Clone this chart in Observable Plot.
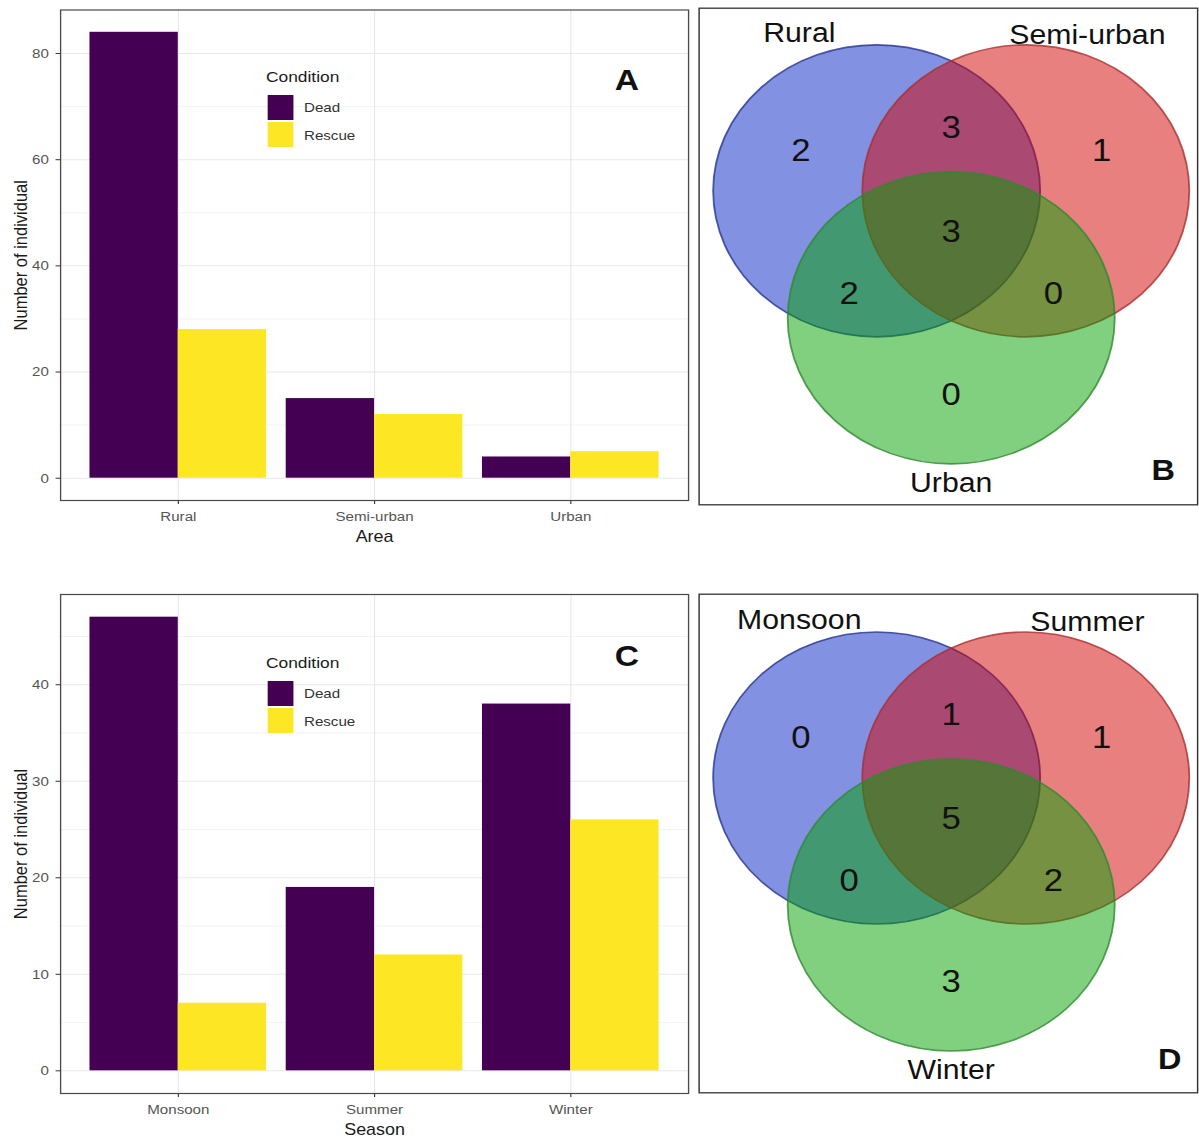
<!DOCTYPE html>
<html>
<head>
<meta charset="utf-8">
<script src="https://cdn.jsdelivr.net/npm/d3@7"></script>
<script src="https://cdn.jsdelivr.net/npm/@observablehq/plot@0.6"></script>
<style>
  html, body { margin: 0; padding: 0; background: #fff; overflow: hidden; }
  #page { position: absolute; left: 0; top: 0; width: 1071px; height: 1141px;
          transform: scaleX(1.12); transform-origin: 0 0;
          font-family: "Liberation Sans", Arial, Helvetica, sans-serif; }
  .panel { position: absolute; }
  .lg { position: absolute; white-space: nowrap; line-height: 20px; }
  .sw { position: absolute; }
</style>
</head>
<body>
<div id="page"></div>
<script>
// ---------------- data ----------------
const areaCategories = ["Rural", "Semi-urban", "Urban"];
const areaDead = [84, 15, 4];
const areaRescue = [28, 12, 5];

const seasonCategories = ["Monsoon", "Summer", "Winter"];
const seasonDead = [47, 19, 38];
const seasonRescue = [7, 12, 26];

const conditions = ["Dead", "Rescue"];

const areaYTicks = [0, 20, 40, 60, 80];
const areaYMinor = [10, 30, 50, 70];
const seasonYTicks = [0, 10, 20, 30, 40];
const seasonYMinor = [5, 15, 25, 35, 45];

// Venn regions: membership code (set1 set2 set3) and counts
const vennRegions = ["100", "010", "001", "110", "101", "011", "111"];
const areaVennCounts = [2, 1, 0, 3, 2, 0, 3];
const seasonVennCounts = [0, 1, 3, 1, 0, 2, 5];

// ---------------- styles ----------------
const FONT = '"Liberation Sans", Arial, Helvetica, sans-serif';
const conditionColors = ["#440154", "#FDE725"];
const vennFills = ["#0523c3", "#d10101", "#01a101"];
const vennStrokes = ["#26358f", "#a83030", "#2d8a2d"];

const page = document.getElementById("page");

function place(node, left, top) {
  const d = document.createElement("div");
  d.className = "panel";
  d.style.left = left + "px";
  d.style.top = top + "px";
  d.appendChild(node);
  page.appendChild(d);
}

// ---------------- grouped bar chart ----------------
function barChart({categories, dead, rescue, yTicks, yMinor, xTitle, letter,
                   top, height, marginTop, marginBottom, letterDy, legendTop}) {
  const series = [dead, rescue];
  const rows = [];
  categories.forEach((c, i) => conditions.forEach((cond, j) =>
    rows.push({category: c, index: i, condition: cond, slot: j, value: series[j][i]})));
  const dodge = 0.45;               // half of the 0.9 group width
  const n = categories.length;
  const maxV = d3.max(rows, d => d.value);
  const pad = maxV * 0.05;

  const chart = Plot.plot({
    width: 618, height,
    marginLeft: 53.6, marginRight: 3.7, marginTop, marginBottom,
    style: {fontFamily: FONT, background: "transparent", overflow: "visible"},
    x: {type: "linear", domain: [-0.6, n - 1 + 0.6]},
    y: {domain: [-pad, maxV + pad]},
    color: {domain: conditions, range: conditionColors},
    marks: [
      Plot.ruleY(yMinor, {stroke: "#f1f1f1", strokeWidth: 0.8}),
      Plot.ruleY(yTicks, {stroke: "#e8e8e8", strokeWidth: 1}),
      Plot.ruleX(d3.range(n), {stroke: "#e8e8e8", strokeWidth: 1}),
      Plot.rect(rows, {
        x1: d => d.index + (d.slot - 1) * dodge,
        x2: d => d.index + d.slot * dodge,
        y1: () => 0, y2: "value", fill: "condition"
      }),
      Plot.axisY({ticks: yTicks, tickSize: 4, tickPadding: 6.5, fontSize: 13.5,
                  stroke: "#333", fill: "#555", label: null}),
      Plot.axisX({ticks: d3.range(n), tickFormat: i => categories[i], tickSize: 4,
                  tickPadding: 7, fontSize: 13.5, stroke: "#333", fill: "#555", label: null}),
      Plot.text([xTitle], {text: d => d, frameAnchor: "bottom", dy: 36, textAnchor: "middle",
                           lineAnchor: "middle", fontSize: 16, fill: "#1a1a1a"}),
      Plot.text(["Number of individual"], {text: d => d, frameAnchor: "left", dx: -35.7, rotate: -90,
                           textAnchor: "middle", lineAnchor: "middle", fontSize: 16.5, fill: "#1a1a1a"}),
      Plot.text([letter], {text: d => d, frameAnchor: "top-right", dx: -55, dy: letterDy,
                           textAnchor: "middle", lineAnchor: "middle", fontSize: 30,
                           fontWeight: "bold", fill: "#111"}),
      Plot.frame({stroke: "#4a4a4a", strokeWidth: 1.2})
    ]
  });
  place(chart, 0, top);

  // legend (ggplot style, inside the panel)
  const t = document.createElement("div");
  t.className = "lg";
  t.textContent = "Condition";
  Object.assign(t.style, {left: "237.5px", top: (legendTop - 10) + "px", fontSize: "15.5px", color: "#1a1a1a"});
  page.appendChild(t);
  conditions.forEach((c, j) => {
    const s = document.createElement("div");
    s.className = "sw";
    Object.assign(s.style, {left: "239.3px", top: (legendTop + 17.5 + j * 27.2) + "px",
                            width: "22.3px", height: "25px", background: conditionColors[j]});
    page.appendChild(s);
    const l = document.createElement("div");
    l.className = "lg";
    l.textContent = c;
    Object.assign(l.style, {left: "271.4px", top: (legendTop + 21 + j * 27.8) + "px",
                            fontSize: "13.5px", color: "#333"});
    page.appendChild(l);
  });
}

// ---------------- three-set Venn diagram ----------------
function vennChart({sets, counts, letter, top, height, Ty, letterDx, letterDy}) {
  const R = 146;          // pixels per unit = circle radius
  const W = 446.5;
  const Tx = 225.8;
  // geometry of the classic 3-circle layout (radius units)
  const halfBase = 0.456, upper = 0.29, lower = 0.58;
  const centers = [[-halfBase, -upper], [halfBase, -upper], [0, lower]];
  const unit = ([x, y]) => { const l = Math.hypot(x, y); return [x / l, y / l]; };
  const shift = 0.02, singleDist = 1.09, pairDist = 0.74;
  const regionPos = code => {
    const m = [...code].map(Number);
    const k = d3.sum(m);
    if (k === 3) return [0, -0.03 + shift];
    if (k === 1) { const u = unit(centers[m.indexOf(1)]); return [u[0] * singleDist, u[1] * singleDist + shift]; }
    const u = unit(centers[m.indexOf(0)]); return [-u[0] * pairDist, -u[1] * pairDist + shift];
  };
  // category label placement (angle from vertical, distance from circle centre)
  const catAngle = [-23.7, 19.5, 180], catDist = [1.177, 1.128, 1.131];

  const circles = sets.map((s, k) => ({name: s, x: centers[k][0], y: centers[k][1],
                                       fill: vennFills[k], stroke: vennStrokes[k]}));
  const regions = vennRegions.map((code, i) => {
    const [x, y] = regionPos(code);
    return {code, count: counts[i], x, y};
  });
  const setLabels = sets.map((s, k) => {
    const a = catAngle[k] * Math.PI / 180;
    return {name: s, x: centers[k][0] + catDist[k] * Math.sin(a), y: centers[k][1] - catDist[k] * Math.cos(a)};
  });

  const chart = Plot.plot({
    width: W, height, margin: 0,
    style: {fontFamily: FONT, background: "transparent", overflow: "visible"},
    x: {domain: [-Tx / R, (W - Tx) / R], axis: null},
    y: {domain: [-Ty / R, (height - Ty) / R], reverse: true, axis: null},
    color: {type: "identity"},
    marks: [
      Plot.dot(circles, {x: "x", y: "y", r: R, fill: "fill", fillOpacity: 0.5,
                         stroke: "stroke", strokeOpacity: 0.8, strokeWidth: 1.6}),
      Plot.text(regions, {x: "x", y: "y", text: d => String(d.count), fontSize: 31, fill: "#111"}),
      Plot.text(setLabels, {x: "x", y: "y", text: "name", fontSize: 27, fill: "#111"}),
      Plot.text([letter], {text: d => d, frameAnchor: "bottom-right", dx: letterDx, dy: letterDy,
                           textAnchor: "middle", lineAnchor: "middle", fontSize: 29,
                           fontWeight: "bold", fill: "#111"}),
      Plot.frame({stroke: "#333", strokeWidth: 1.3, inset: 0.7})
    ]
  });
  place(chart, 622.8, top);
}

barChart({categories: areaCategories, dead: areaDead, rescue: areaRescue,
          yTicks: areaYTicks, yMinor: areaYMinor, xTitle: "Area", letter: "A",
          top: 0, height: 560, marginTop: 9.5, marginBottom: 60, letterDy: 70.5, legendTop: 77});
barChart({categories: seasonCategories, dead: seasonDead, rescue: seasonRescue,
          yTicks: seasonYTicks, yMinor: seasonYMinor, xTitle: "Season", letter: "C",
          top: 584, height: 557, marginTop: 10, marginBottom: 48, letterDy: 62, legendTop: 663});

vennChart({sets: areaCategories, counts: areaVennCounts, letter: "B",
           top: 7, height: 498, Ty: 225.7, letterDx: -31.3, letterDy: -35});
vennChart({sets: seasonCategories, counts: seasonVennCounts, letter: "D",
           top: 593, height: 500, Ty: 226.8, letterDx: -25.5, letterDy: -33.5});
</script>
</body>
</html>
